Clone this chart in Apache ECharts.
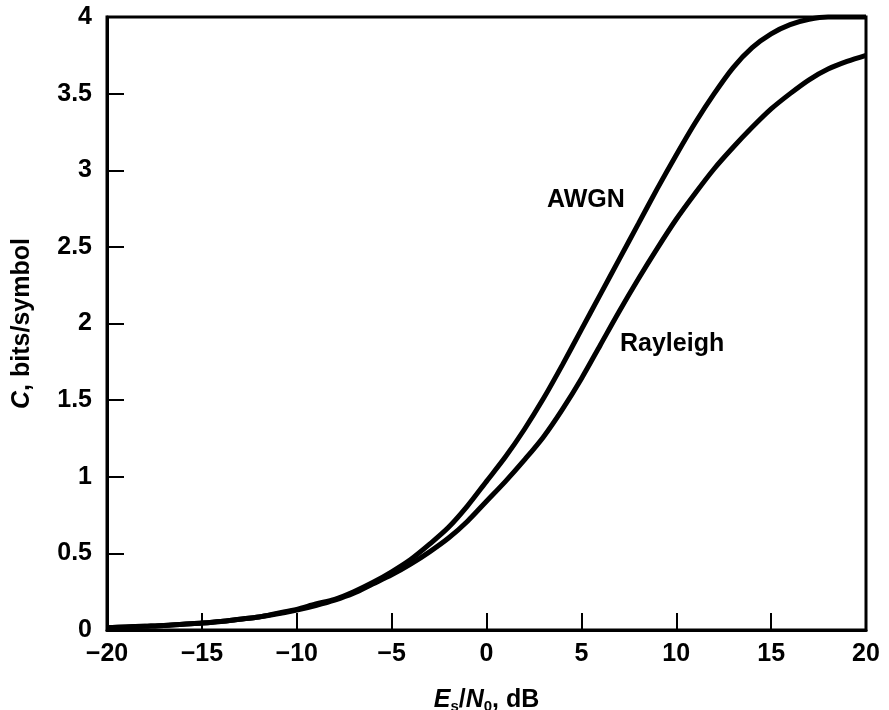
<!DOCTYPE html>
<html>
<head>
<meta charset="utf-8">
<script src="https://cdn.jsdelivr.net/npm/echarts@6/dist/echarts.min.js"></script>
<style>
    html, body { margin: 0; padding: 0; background: #fff; }
    #chart { width: 889px; height: 710px; }
</style>
</head>
<body>
<div id="chart"></div>
<script>
    // Es/N0 in dB
    var snrDb = [-20, -19, -18, -17, -16, -15, -14, -13, -12, -11,
                 -10, -9, -8, -7, -6, -5, -4, -3, -2, -1,
                 0, 1, 2, 3, 4, 5, 6, 7, 8, 9,
                 10, 11, 12, 13, 14, 15, 16, 17, 18, 19, 20];
    // capacity, bits/symbol
    var awgnCap = [0.015, 0.02, 0.025, 0.03, 0.038, 0.045, 0.055, 0.07, 0.085, 0.11,
                   0.135, 0.17, 0.2, 0.25, 0.31, 0.38, 0.46, 0.56, 0.67, 0.81,
                   0.97, 1.13, 1.31, 1.51, 1.73, 1.96, 2.19, 2.42, 2.65, 2.88,
                   3.10, 3.31, 3.50, 3.67, 3.80, 3.89, 3.95, 3.985, 4.0, 4.0, 4.0];
    var rayleighCap = [0.015, 0.02, 0.025, 0.03, 0.038, 0.045, 0.055, 0.07, 0.085, 0.105,
                       0.13, 0.16, 0.195, 0.24, 0.3, 0.36, 0.43, 0.51, 0.6, 0.71,
                       0.84, 0.97, 1.11, 1.26, 1.44, 1.64, 1.86, 2.08, 2.29, 2.49,
                       2.68, 2.85, 3.01, 3.15, 3.28, 3.40, 3.50, 3.59, 3.66, 3.71, 3.75];
    var xTicks = [-20, -15, -10, -5, 0, 5, 10, 15, 20];
    var yTicks = [0, 0.5, 1, 1.5, 2, 2.5, 3, 3.5, 4];

    var FONT = '"Liberation Sans", Arial, sans-serif';

    function pairs(xs, ys) {
        return xs.map(function(x, i) { return [x, ys[i]]; });
    }

    var chart = echarts.init(document.getElementById('chart'));
    var option = {
        backgroundColor: '#fff',
        animation: false,
        textStyle: { fontFamily: FONT },
        grid: {
            left: 107, right: 23, top: 17, bottom: 80,
            outerBoundsMode: 'none',
            containLabel: false,
            show: true, borderColor: '#000', borderWidth: 3
        },
        xAxis: {
            type: 'value',
            min: xTicks[0], max: xTicks[xTicks.length - 1], interval: 5,
            axisLine: { show: true, onZero: false, lineStyle: { color: '#000', width: 3 } },
            axisTick: { show: true, inside: true, length: 17, lineStyle: { color: '#000', width: 2 } },
            splitLine: { show: false },
            axisLabel: {
                color: '#000', fontSize: 25, fontWeight: 'bold', margin: 12, fontFamily: FONT,
                formatter: function(v) { return String(v).replace('-', '\u2212'); }
            },
            name: '{i|E}{sub|s}{n|/}{i|N}{sub|0}{n|, dB}',
            nameLocation: 'middle',
            nameGap: 56,
            nameTextStyle: {
                rich: {
                    i: { fontSize: 25, fontWeight: 'bold', fontStyle: 'italic', color: '#000', fontFamily: FONT, lineHeight: 28 },
                    n: { fontSize: 25, fontWeight: 'bold', color: '#000', fontFamily: FONT, lineHeight: 28 },
                    sub: { fontSize: 15, fontWeight: 'bold', color: '#000', fontFamily: FONT, verticalAlign: 'bottom', lineHeight: 14 }
                }
            }
        },
        yAxis: {
            type: 'value',
            min: yTicks[0], max: yTicks[yTicks.length - 1], interval: 0.5,
            axisLine: { show: true, onZero: false, lineStyle: { color: '#000', width: 3 } },
            axisTick: { show: true, inside: true, length: 17, lineStyle: { color: '#000', width: 2 } },
            splitLine: { show: false },
            axisLabel: { color: '#000', fontSize: 25, fontWeight: 'bold', margin: 15, fontFamily: FONT },
            name: '{i|C}{n|, bits/symbol}',
            nameLocation: 'middle',
            nameGap: 72,
            nameRotate: 90,
            nameTextStyle: {
                rich: {
                    i: { fontSize: 25, fontWeight: 'bold', fontStyle: 'italic', color: '#000', fontFamily: FONT },
                    n: { fontSize: 25, fontWeight: 'bold', color: '#000', fontFamily: FONT }
                }
            }
        },
        series: [
            {
                name: 'AWGN',
                type: 'line',
                data: pairs(snrDb, awgnCap),
                smooth: 0.3,
                showSymbol: false,
                clip: false,
                lineStyle: { color: '#000', width: 5 }
            },
            {
                name: 'Rayleigh',
                type: 'line',
                data: pairs(snrDb, rayleighCap),
                smooth: 0.3,
                showSymbol: false,
                clip: false,
                lineStyle: { color: '#000', width: 5 }
            }
        ],
        graphic: [
            {
                type: 'text', left: 547, top: 188,
                style: { text: 'AWGN', font: 'bold 25px ' + FONT, fill: '#000' }
            },
            {
                type: 'text', left: 620, top: 332,
                style: { text: 'Rayleigh', font: 'bold 25px ' + FONT, fill: '#000' }
            }
        ]
    };

    chart.setOption(option);
</script>
</body>
</html>
